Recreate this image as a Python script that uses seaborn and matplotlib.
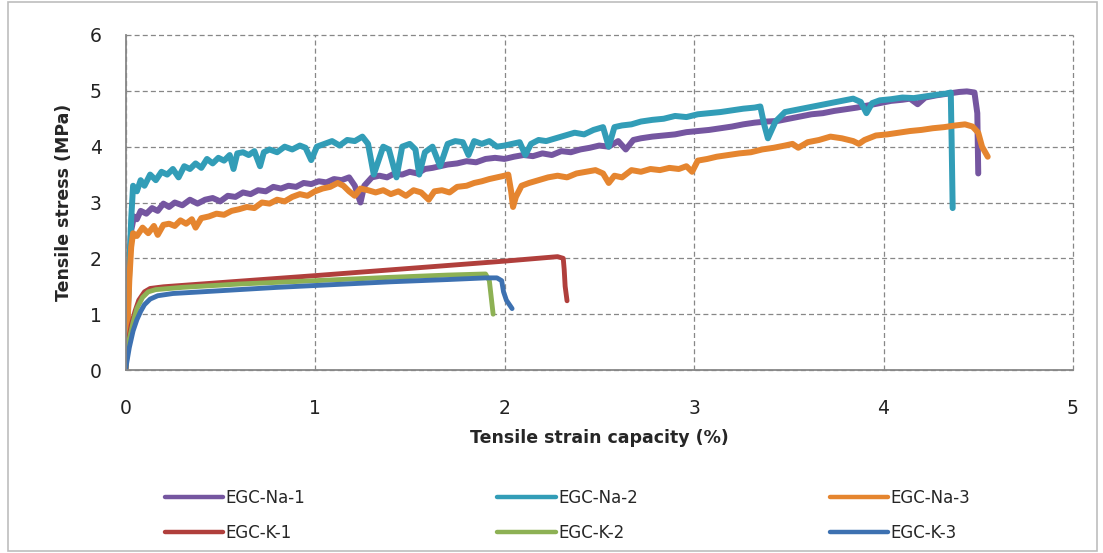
import numpy as np
import pandas as pd
import matplotlib
matplotlib.use("Agg")
import matplotlib.pyplot as plt
from matplotlib.lines import Line2D
from matplotlib.patches import Rectangle
from matplotlib.ticker import MultipleLocator
import seaborn as sns

# (strain %, stress MPa)
NA_1 = [(0, 0), (0.01, 0.9), (0.02, 1.9), (0.03, 2.5), (0.045, 2.75), (0.06, 2.7), (0.08, 2.85),
        (0.11, 2.8), (0.14, 2.9), (0.17, 2.85), (0.2, 2.98), (0.23, 2.92), (0.26, 3.0), (0.3, 2.95),
        (0.34, 3.05), (0.38, 2.98), (0.42, 3.05), (0.46, 3.08), (0.5, 3.02), (0.54, 3.12), (0.58, 3.1),
        (0.62, 3.18), (0.66, 3.15), (0.7, 3.22), (0.74, 3.2), (0.78, 3.28), (0.82, 3.25), (0.86, 3.3),
        (0.9, 3.28), (0.94, 3.35), (0.98, 3.33), (1.02, 3.38), (1.06, 3.36), (1.1, 3.42), (1.14, 3.4),
        (1.18, 3.45), (1.21, 3.3), (1.24, 3.0), (1.26, 3.3), (1.3, 3.45), (1.34, 3.48), (1.38, 3.45),
        (1.42, 3.52), (1.46, 3.5), (1.5, 3.55), (1.54, 3.52), (1.58, 3.6), (1.62, 3.62), (1.66, 3.65),
        (1.7, 3.68), (1.75, 3.7), (1.8, 3.74), (1.85, 3.72), (1.9, 3.78), (1.95, 3.8), (2.0, 3.78),
        (2.05, 3.82), (2.1, 3.85), (2.15, 3.83), (2.2, 3.88), (2.25, 3.85), (2.3, 3.92), (2.35, 3.9),
        (2.4, 3.95), (2.45, 3.98), (2.5, 4.02), (2.55, 4.0), (2.6, 4.1), (2.64, 3.95), (2.68, 4.12),
        (2.72, 4.15), (2.78, 4.18), (2.84, 4.2), (2.9, 4.22), (2.96, 4.26), (3.02, 4.28), (3.08, 4.3),
        (3.14, 4.33), (3.2, 4.36), (3.26, 4.4), (3.32, 4.43), (3.38, 4.45), (3.44, 4.46), (3.5, 4.5),
        (3.56, 4.54), (3.62, 4.58), (3.68, 4.6), (3.74, 4.64), (3.8, 4.67), (3.86, 4.7), (3.92, 4.74),
        (3.98, 4.78), (4.04, 4.82), (4.1, 4.84), (4.14, 4.86), (4.18, 4.76), (4.22, 4.88), (4.28, 4.92),
        (4.34, 4.95), (4.4, 4.98), (4.44, 4.99), (4.48, 4.97), (4.495, 4.6), (4.5, 3.52)]

NA_2 = [(0, 0), (0.01, 0.8), (0.02, 1.8), (0.03, 2.7), (0.04, 3.3), (0.06, 3.2), (0.08, 3.4),
        (0.1, 3.3), (0.13, 3.5), (0.16, 3.4), (0.19, 3.55), (0.22, 3.5), (0.25, 3.6), (0.28, 3.45),
        (0.31, 3.65), (0.34, 3.6), (0.37, 3.7), (0.4, 3.62), (0.43, 3.78), (0.46, 3.7), (0.49, 3.8),
        (0.52, 3.75), (0.55, 3.85), (0.57, 3.6), (0.59, 3.88), (0.62, 3.9), (0.65, 3.85), (0.68, 3.92),
        (0.71, 3.65), (0.73, 3.9), (0.76, 3.95), (0.8, 3.9), (0.84, 4.0), (0.88, 3.95), (0.92, 4.02),
        (0.95, 3.98), (0.98, 3.76), (1.01, 4.0), (1.05, 4.05), (1.09, 4.1), (1.13, 4.02), (1.17, 4.12),
        (1.21, 4.1), (1.25, 4.18), (1.28, 4.05), (1.31, 3.5), (1.33, 3.7), (1.36, 4.0), (1.39, 3.95),
        (1.43, 3.45), (1.46, 4.0), (1.5, 4.05), (1.53, 3.95), (1.55, 3.5), (1.58, 3.9), (1.62, 4.0),
        (1.66, 3.65), (1.7, 4.05), (1.74, 4.1), (1.78, 4.08), (1.81, 3.85), (1.84, 4.1), (1.88, 4.05),
        (1.92, 4.1), (1.96, 4.0), (2.0, 4.02), (2.04, 4.05), (2.08, 4.08), (2.11, 3.85), (2.14, 4.05),
        (2.18, 4.12), (2.22, 4.1), (2.27, 4.15), (2.32, 4.2), (2.37, 4.25), (2.42, 4.22), (2.47, 4.3),
        (2.52, 4.35), (2.55, 4.0), (2.58, 4.35), (2.62, 4.38), (2.67, 4.4), (2.72, 4.45), (2.78, 4.48),
        (2.84, 4.5), (2.9, 4.55), (2.96, 4.53), (3.02, 4.58), (3.08, 4.6), (3.14, 4.62), (3.2, 4.65),
        (3.26, 4.68), (3.32, 4.7), (3.35, 4.72), (3.37, 4.4), (3.39, 4.15), (3.43, 4.45), (3.48, 4.62),
        (3.54, 4.66), (3.6, 4.7), (3.66, 4.74), (3.72, 4.78), (3.78, 4.82), (3.84, 4.86), (3.88, 4.8),
        (3.91, 4.6), (3.94, 4.78), (3.98, 4.83), (4.04, 4.85), (4.1, 4.88), (4.16, 4.87), (4.22, 4.9),
        (4.28, 4.93), (4.33, 4.95), (4.355, 4.97), (4.36, 4.0), (4.365, 2.9)]

NA_3 = [(0, 0), (0.01, 0.7), (0.02, 1.6), (0.03, 2.2), (0.04, 2.45), (0.06, 2.4), (0.09, 2.55),
        (0.12, 2.45), (0.15, 2.58), (0.17, 2.42), (0.2, 2.6), (0.23, 2.62), (0.26, 2.58), (0.29, 2.68),
        (0.32, 2.62), (0.35, 2.7), (0.37, 2.55), (0.4, 2.72), (0.44, 2.75), (0.48, 2.8), (0.52, 2.78),
        (0.56, 2.85), (0.6, 2.88), (0.64, 2.92), (0.68, 2.9), (0.72, 3.0), (0.76, 2.98), (0.8, 3.05),
        (0.84, 3.02), (0.88, 3.1), (0.92, 3.15), (0.96, 3.12), (1.0, 3.2), (1.04, 3.25), (1.08, 3.28),
        (1.12, 3.35), (1.15, 3.3), (1.18, 3.2), (1.21, 3.12), (1.24, 3.25), (1.28, 3.22), (1.32, 3.18),
        (1.36, 3.22), (1.4, 3.15), (1.44, 3.2), (1.48, 3.12), (1.52, 3.22), (1.56, 3.18), (1.6, 3.05),
        (1.63, 3.2), (1.67, 3.22), (1.71, 3.18), (1.75, 3.28), (1.8, 3.3), (1.84, 3.35), (1.88, 3.38),
        (1.92, 3.42), (1.96, 3.45), (2.0, 3.48), (2.02, 3.5), (2.035, 3.2), (2.045, 2.92), (2.06, 3.1),
        (2.09, 3.3), (2.13, 3.35), (2.18, 3.4), (2.23, 3.45), (2.28, 3.48), (2.33, 3.45), (2.38, 3.52),
        (2.43, 3.55), (2.48, 3.58), (2.52, 3.52), (2.55, 3.35), (2.58, 3.48), (2.62, 3.45), (2.67, 3.58),
        (2.72, 3.55), (2.77, 3.6), (2.82, 3.58), (2.87, 3.62), (2.92, 3.6), (2.96, 3.65), (2.99, 3.55),
        (3.02, 3.75), (3.07, 3.78), (3.12, 3.82), (3.18, 3.85), (3.24, 3.88), (3.3, 3.9), (3.36, 3.95),
        (3.42, 3.98), (3.48, 4.02), (3.52, 4.05), (3.55, 3.98), (3.6, 4.08), (3.66, 4.12), (3.72, 4.18),
        (3.78, 4.15), (3.84, 4.1), (3.87, 4.05), (3.9, 4.12), (3.96, 4.2), (4.02, 4.22), (4.08, 4.25),
        (4.14, 4.28), (4.2, 4.3), (4.26, 4.33), (4.32, 4.35), (4.38, 4.38), (4.43, 4.4), (4.47, 4.36),
        (4.5, 4.25), (4.52, 4.0), (4.55, 3.82)]

K_1 = [(0, 0), (0.01, 0.35), (0.02, 0.6), (0.03, 0.8), (0.05, 1.05), (0.07, 1.25), (0.1, 1.4),
       (0.13, 1.46), (0.2, 1.49), (0.6, 1.59), (1.0, 1.69), (1.5, 1.82), (2.0, 1.95), (2.28, 2.03),
       (2.31, 2.0), (2.315, 1.8), (2.32, 1.5), (2.33, 1.24)]

K_2 = [(0, 0), (0.01, 0.3), (0.02, 0.55), (0.04, 0.85), (0.06, 1.1), (0.09, 1.3), (0.12, 1.4),
       (0.16, 1.44), (0.3, 1.48), (0.6, 1.54), (1.0, 1.6), (1.4, 1.66), (1.7, 1.7), (1.9, 1.72),
       (1.92, 1.6), (1.93, 1.3), (1.94, 1.0)]

K_3 = [(0, 0), (0.01, 0.2), (0.02, 0.4), (0.04, 0.7), (0.06, 0.9), (0.08, 1.05), (0.1, 1.17),
       (0.13, 1.27), (0.17, 1.33), (0.25, 1.37), (0.5, 1.42), (0.8, 1.48), (1.1, 1.53), (1.4, 1.58),
       (1.7, 1.62), (1.9, 1.65), (1.96, 1.65), (1.985, 1.6), (1.995, 1.4), (2.01, 1.25), (2.04, 1.1)]

SPECIMENS = ["EGC-Na-1", "EGC-Na-2", "EGC-Na-3", "EGC-K-1", "EGC-K-2", "EGC-K-3"]
CURVES = [NA_1, NA_2, NA_3, K_1, K_2, K_3]
COLORS = ["#7556A0", "#329DB7", "#E5852F", "#B03F3C", "#8DB154", "#3D71B1"]

frames = []
for name, pts in zip(SPECIMENS, CURVES):
    part = pd.DataFrame(pts, columns=["strain", "stress"])
    part["specimen"] = name
    frames.append(part)
df = pd.concat(frames, ignore_index=True)

sns.set_theme(style="white")
plt.rcParams["font.family"] = ["DejaVu Sans"]

fig = plt.figure(figsize=(11.03, 5.53), dpi=100)
ax = fig.add_axes([125.5 / 1103, 1 - 370 / 553, (1073 - 125.5) / 1103, (370 - 35) / 553])

sns.lineplot(data=df, x="strain", y="stress", hue="specimen", hue_order=SPECIMENS,
             palette=dict(zip(SPECIMENS, COLORS)), sort=False, estimator=None,
             linewidth=3.4, legend=False, ax=ax)
lines = ax.get_lines()
for i, line in enumerate(lines):
    line.set_solid_joinstyle("round")
    line.set_solid_capstyle("round")
    # the sodium curves are noisy, so their band reads thicker
    line.set_linewidth(4.3 if i < 3 else 3.5)

ax.set_xlim(0, 5)
ax.set_ylim(0, 6)
ax.xaxis.set_major_locator(MultipleLocator(1))
ax.xaxis.set_minor_locator(MultipleLocator(0.5))
ax.yaxis.set_major_locator(MultipleLocator(1))
ax.yaxis.set_minor_locator(MultipleLocator(0.5))

grey = "#878787"
ax.grid(True, which="major", color=grey, linestyle=(0, (4, 2.5)), linewidth=0.9)
for gl in ax.get_xgridlines() + ax.get_ygridlines():
    gl.set_clip_on(False)
for side in ["top", "right"]:
    ax.spines[side].set_visible(False)
for side in ["left", "bottom"]:
    ax.spines[side].set_color(grey)
    ax.spines[side].set_linewidth(1.3)

ax.tick_params(axis="both", which="major", direction="inout", length=10, width=1.2,
               color=grey, labelsize=13.5, labelcolor="#222222")
ax.tick_params(axis="both", which="minor", direction="in", length=5, width=1.2, color=grey)
ax.tick_params(axis="x", which="major", pad=16)
ax.tick_params(axis="y", which="major", pad=12)

ax.set_xlabel("Tensile strain capacity (%)", fontsize=12.5, fontweight="bold", labelpad=8)
ax.set_ylabel("Tensile stress (MPa)", fontsize=12.5, fontweight="bold", labelpad=12)

# legend swatches all share one thickness, like the reference
order = [0, 3, 1, 4, 2, 5]
handles = [Line2D([], [], color=COLORS[i], linewidth=3.2, solid_capstyle="round") for i in order]
fig.legend(handles, [SPECIMENS[i] for i in order], ncol=3, frameon=False,
           loc="upper left", bbox_to_anchor=(150 / 1103, 1 - 474 / 553), fontsize=12,
           handlelength=3.5, handletextpad=0.15, columnspacing=11.5, labelspacing=1.0)

fig.patches.append(Rectangle((8 / 1103, 2 / 553), 1089 / 1103, 549 / 553, transform=fig.transFigure,
                             fill=False, edgecolor="#BDBDBD", linewidth=1.2))

fig.savefig("out.png", dpi=100)
